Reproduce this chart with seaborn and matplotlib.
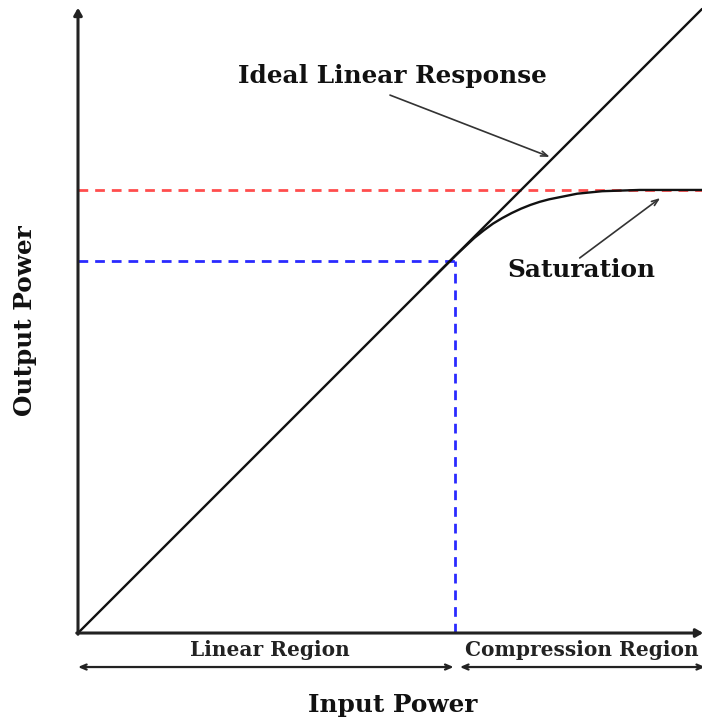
import matplotlib
matplotlib.use("Agg")
import matplotlib.pyplot as plt
import seaborn as sns
import pandas as pd

# ---- data ----
ideal_x = [0.0, 10.0]
ideal_y = [0.0, 10.0]
sat_x = [5.6, 6.04, 6.2, 6.35, 6.5, 6.65, 6.8, 6.95, 7.1, 7.25, 7.4, 7.55, 7.7,
         7.85, 8.0, 8.2, 8.4, 8.7, 9.0, 9.4, 10.0]
sat_y = [5.6, 6.04, 6.19, 6.33, 6.45, 6.56, 6.65, 6.73, 6.80, 6.86, 6.91, 6.95, 6.98,
         7.01, 7.04, 7.06, 7.08, 7.09, 7.10, 7.10, 7.10]
knee_x = 6.04
knee_y = 5.96
sat_level = 7.10
x_max = 10.0
y_max = 10.0
region_labels = ["Linear Region", "Compression Region"]
x_label = "Input Power"
y_label = "Output Power"
ideal_label = "Ideal Linear Response"
sat_label = "Saturation"

sns.set_theme(style="white")
plt.rcParams['font.family'] = ['DejaVu Serif']

fig = plt.figure(figsize=(7.02, 7.24), dpi=100)
ax = fig.add_axes([0, 0, 1, 1])
ax.set_xlim(-1.25, 10.0)
ax.set_ylim(-1.458, 10.144)
ax.axis("off")

ideal_df = pd.DataFrame({"x": ideal_x, "y": ideal_y})
sat_df = pd.DataFrame({"x": sat_x, "y": sat_y})

dash = (0, (3.5, 2.5))
ax.plot([0, x_max], [sat_level, sat_level], color="#ff4d4d", lw=2, ls=dash, zorder=1)
ax.plot([0, knee_x], [knee_y, knee_y], color="#2a2aff", lw=2, ls=dash, zorder=1)
ax.plot([knee_x, knee_x], [0, knee_y], color="#2a2aff", lw=2, ls=dash, zorder=1)

sns.lineplot(data=ideal_df, x="x", y="y", ax=ax, color="#111111", lw=1.7, zorder=3)
sns.lineplot(data=sat_df, x="x", y="y", ax=ax, color="#111111", lw=1.7, zorder=3, sort=False)

# axes arrows
ax.annotate("", xy=(0, y_max + 0.02), xytext=(0, -0.02), annotation_clip=False,
            arrowprops=dict(arrowstyle="-|>,head_length=0.35,head_width=0.2", lw=2.2, color="#222222",
                            shrinkA=0, shrinkB=0))
ax.annotate("", xy=(x_max + 0.02, 0), xytext=(-0.02, 0), annotation_clip=False,
            arrowprops=dict(arrowstyle="-|>,head_length=0.35,head_width=0.2", lw=2.2, color="#222222",
                            shrinkA=0, shrinkB=0))

# region double arrows
ya = -0.545
ax.annotate("", xy=(knee_x - 0.02, ya), xytext=(0, ya), annotation_clip=False,
            arrowprops=dict(arrowstyle="<->,head_length=0.35,head_width=0.15", lw=1.6, color="#222222",
                            shrinkA=0, shrinkB=0))
ax.annotate("", xy=(x_max + 0.05, ya), xytext=(knee_x + 0.08, ya), annotation_clip=False,
            arrowprops=dict(arrowstyle="<->,head_length=0.35,head_width=0.15", lw=1.6, color="#222222",
                            shrinkA=0, shrinkB=0))
ax.text(knee_x / 2 + 0.05, -0.27, region_labels[0], ha="center", va="center",
        fontsize=14.5, fontweight="bold", color="#222222")
ax.text((knee_x + x_max) / 2 + 0.05, -0.27, region_labels[1], ha="center", va="center",
        fontsize=14.5, fontweight="bold", color="#222222")

# axis labels
ax.text(5.05, -1.15, x_label, ha="center", va="center", fontsize=17.8, fontweight="bold", color="#111111")
ax.text(-0.85, 5.0, y_label, ha="center", va="center", rotation=90, fontsize=17.8,
        fontweight="bold", color="#111111")

# annotations
ax.text(5.04, 8.93, ideal_label, ha="center", va="center",
        fontsize=17.8, fontweight="bold", color="#111111")
ax.annotate("", xy=(7.56, 7.63), xytext=(5.0, 8.62),
            arrowprops=dict(arrowstyle="->,head_length=0.4,head_width=0.15", lw=1.2, color="#333333",
                            shrinkA=0, shrinkB=0))
ax.text(8.06, 5.82, sat_label, ha="center", va="center",
        fontsize=17.8, fontweight="bold", color="#111111")
ax.annotate("", xy=(9.33, 6.97), xytext=(8.04, 6.01),
            arrowprops=dict(arrowstyle="->,head_length=0.4,head_width=0.15", lw=1.2, color="#333333",
                            shrinkA=0, shrinkB=0))

fig.savefig("out.png", dpi=100)
